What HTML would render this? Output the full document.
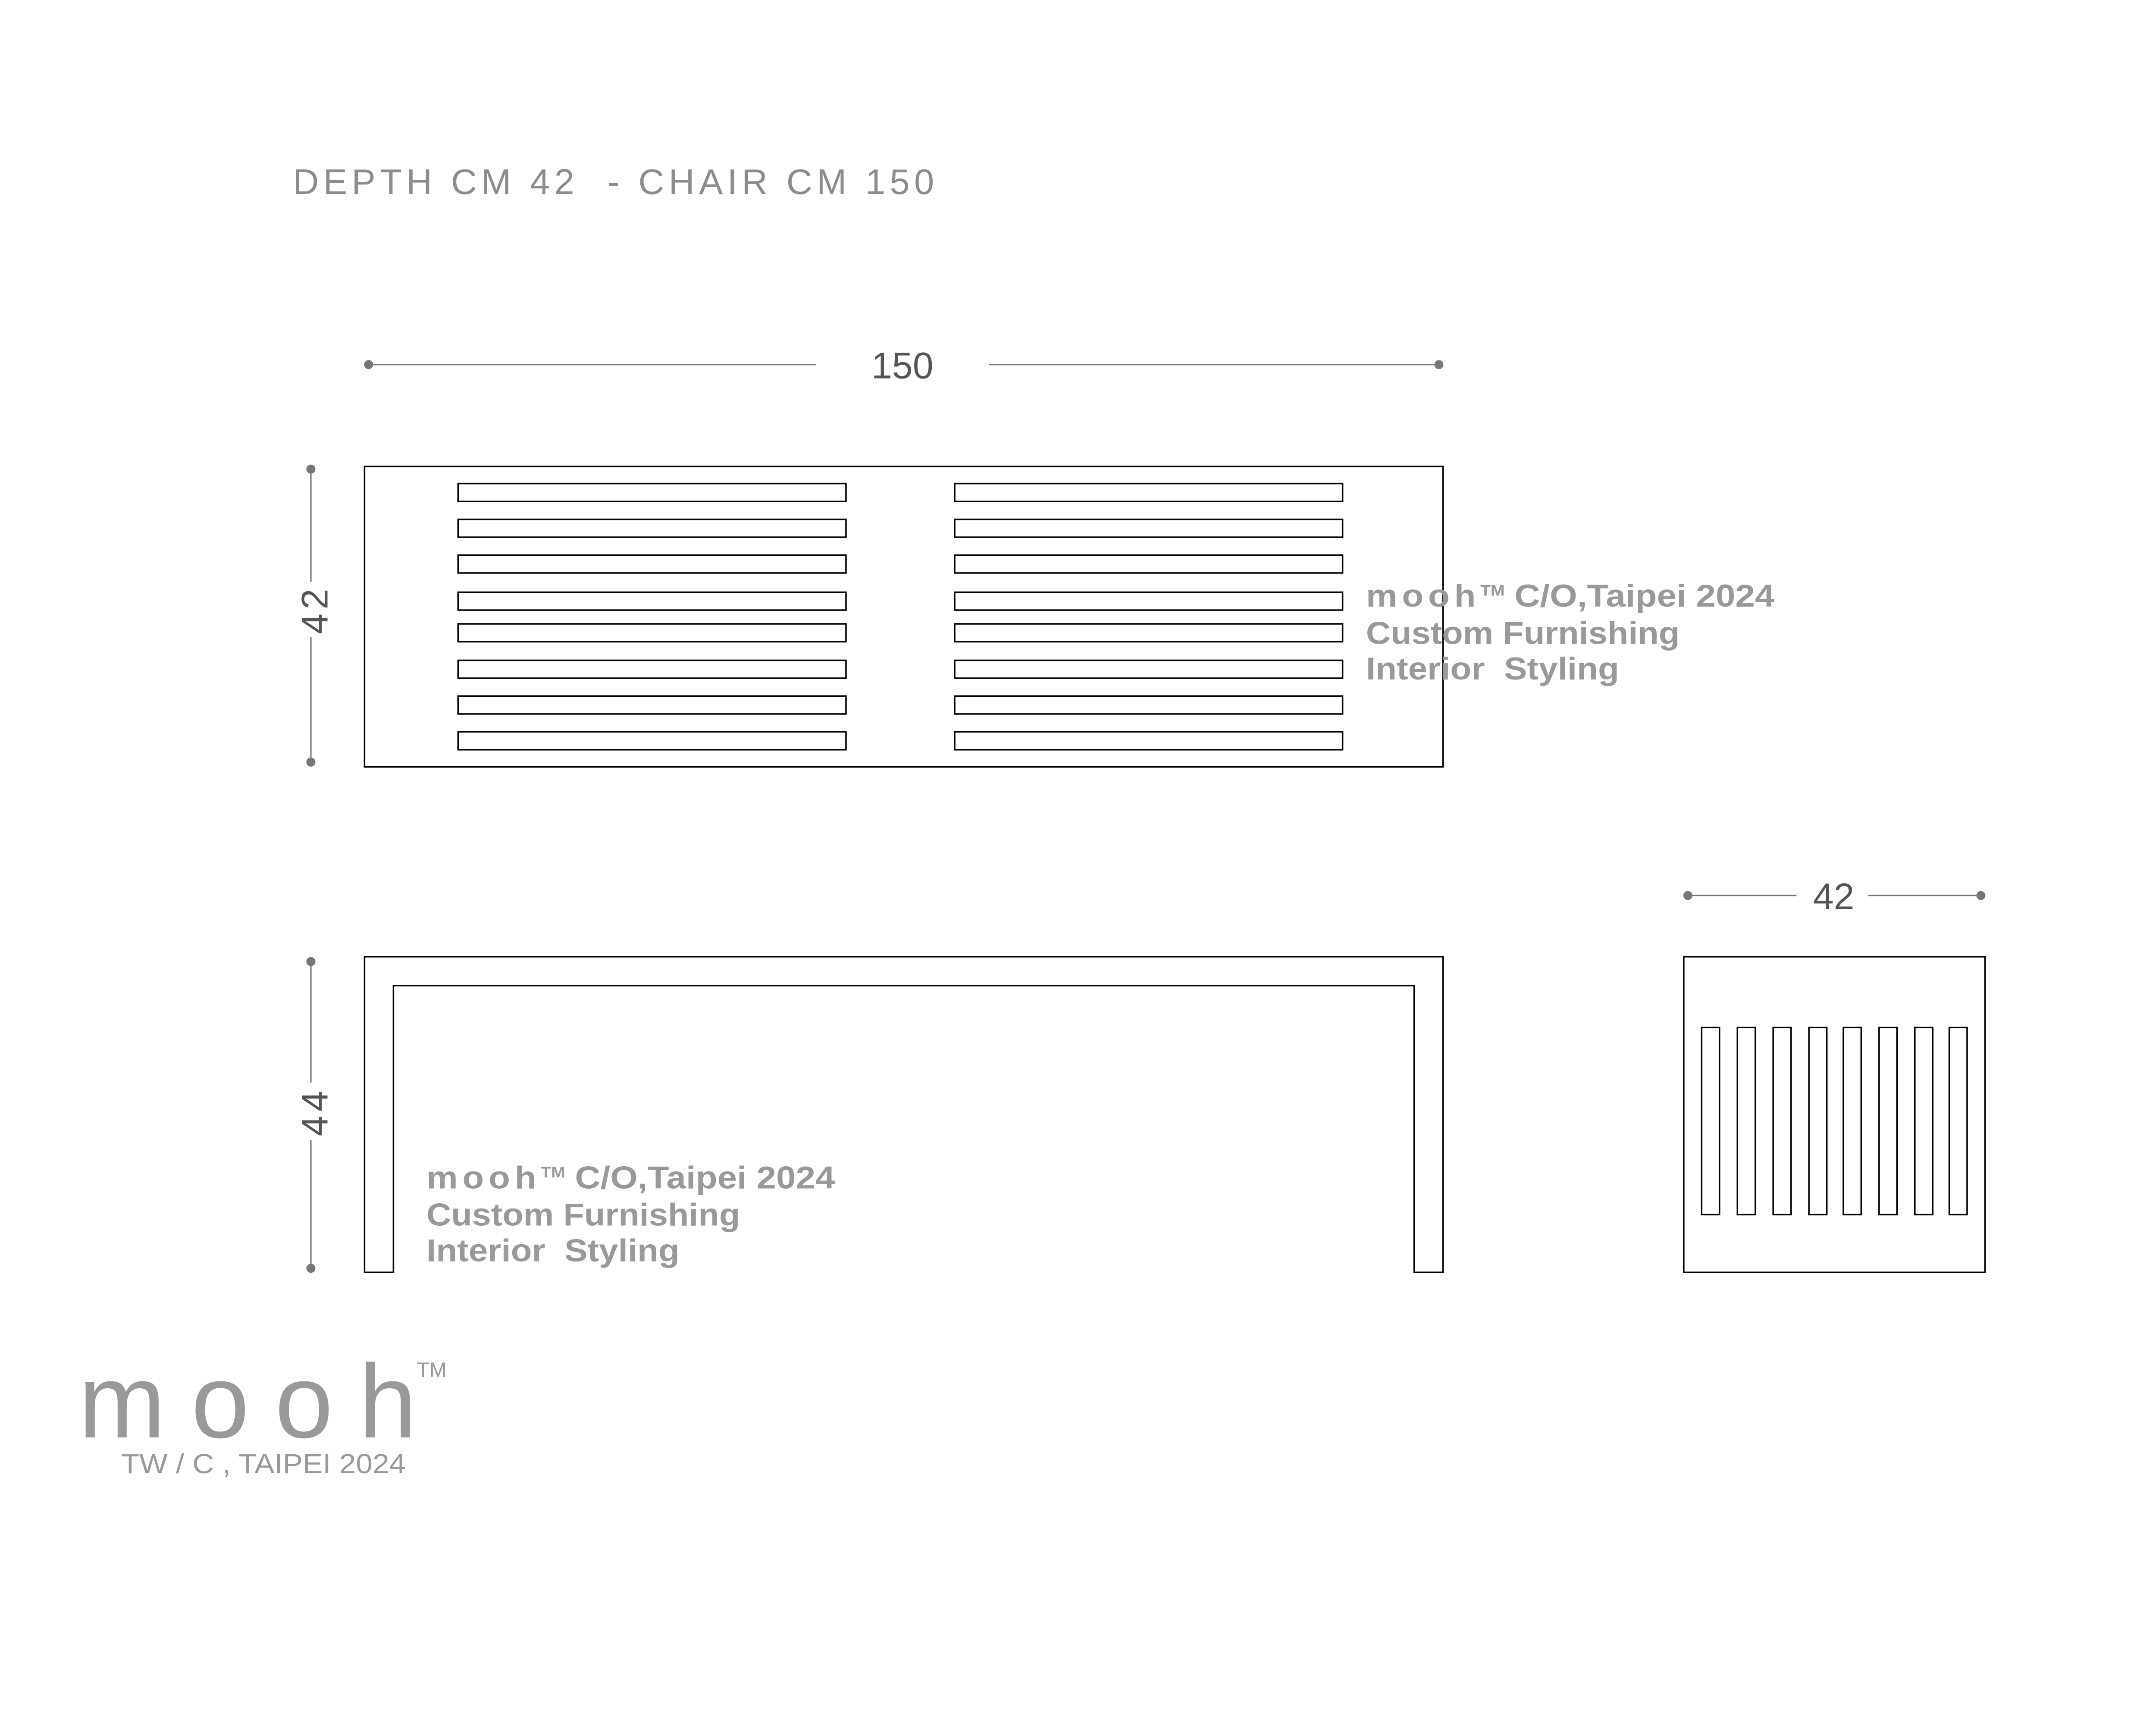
<!DOCTYPE html>
<html><head><meta charset="utf-8"><style>
html,body{margin:0;padding:0;background:#fff;overflow:hidden;width:5334px;height:4001px;}
svg{display:block;}
text{font-family:"Liberation Sans",sans-serif;white-space:pre;}
</style></head><body>
<svg width="5334" height="4001" viewBox="0 0 1672 1254" xmlns="http://www.w3.org/2000/svg">
<rect width="1672" height="1254" fill="#fff"/>
<text x="213" y="141" font-size="26" fill="#8c8c8c" textLength="466" lengthAdjust="spacing" xml:space="preserve">DEPTH CM 42  - CHAIR CM 150</text>

<g stroke="#777" stroke-width="1" fill="#777">
<line x1="268" y1="265" x2="593" y2="265"/><line x1="719" y1="265" x2="1046" y2="265"/>
<circle cx="268" cy="265" r="3.3" stroke="none"/><circle cx="1046" cy="265" r="3.3" stroke="none"/>
<line x1="226" y1="341" x2="226" y2="423"/><line x1="226" y1="463" x2="226" y2="554"/>
<circle cx="226" cy="341" r="3.3" stroke="none"/><circle cx="226" cy="554" r="3.3" stroke="none"/>
<line x1="226" y1="699" x2="226" y2="787"/><line x1="226" y1="829" x2="226" y2="922"/>
<circle cx="226" cy="699" r="3.3" stroke="none"/><circle cx="226" cy="922" r="3.3" stroke="none"/>
<line x1="1227" y1="651" x2="1306" y2="651"/><line x1="1358" y1="651" x2="1440" y2="651"/>
<circle cx="1227" cy="651" r="3.3" stroke="none"/><circle cx="1440" cy="651" r="3.3" stroke="none"/>
</g>
<text x="656" y="275" font-size="27" fill="#555" text-anchor="middle">150</text>
<text x="1333" y="661" font-size="27" fill="#555" text-anchor="middle">42</text>
<text transform="translate(238,443) rotate(-90)" font-size="27" fill="#555" text-anchor="middle" letter-spacing="3">42</text>
<text transform="translate(238,808) rotate(-90)" font-size="27" fill="#555" text-anchor="middle" letter-spacing="3">44</text>

<g fill="none" stroke="#000" stroke-width="1.1">
<rect x="265" y="339" width="784" height="218.5"/>
<g id="s">
<rect x="333" y="351.5" width="282" height="13"/>
<rect x="333" y="377.5" width="282" height="13"/>
<rect x="333" y="403.5" width="282" height="13"/>
<rect x="333" y="430.5" width="282" height="13"/>
<rect x="333" y="453.5" width="282" height="13"/>
<rect x="333" y="480" width="282" height="13"/>
<rect x="333" y="506" width="282" height="13"/>
<rect x="333" y="532" width="282" height="13"/>
</g>
<use href="#s" x="361"/>
<path d="M265 925 V695.5 H1049 V925 H1028 V716.5 H286 V925 Z"/>
<rect x="1224" y="695.5" width="219" height="229.5"/>
<rect x="1237" y="747" width="13" height="136"/>
<rect x="1263" y="747" width="13" height="136"/>
<rect x="1289" y="747" width="13" height="136"/>
<rect x="1315" y="747" width="13" height="136"/>
<rect x="1340" y="747" width="13" height="136"/>
<rect x="1366" y="747" width="13" height="136"/>
<rect x="1392" y="747" width="13" height="136"/>
<rect x="1417" y="747" width="13" height="136"/>
</g>

<g font-size="23" font-weight="bold" fill="#999">
<text x="993" y="441" textLength="297" lengthAdjust="spacingAndGlyphs"><tspan letter-spacing="3">mooh</tspan><tspan font-size="11" dy="-8">TM</tspan><tspan dy="8"> C/O,Taipei 2024</tspan></text>
<text x="993" y="468" textLength="228" lengthAdjust="spacingAndGlyphs">Custom Furnishing</text>
<text x="993" y="494" textLength="184" lengthAdjust="spacingAndGlyphs" xml:space="preserve">Interior  Styling</text>
<text x="310" y="864" textLength="297" lengthAdjust="spacingAndGlyphs"><tspan letter-spacing="3">mooh</tspan><tspan font-size="11" dy="-8">TM</tspan><tspan dy="8"> C/O,Taipei 2024</tspan></text>
<text x="310" y="891" textLength="228" lengthAdjust="spacingAndGlyphs">Custom Furnishing</text>
<text x="310" y="917" textLength="184" lengthAdjust="spacingAndGlyphs" xml:space="preserve">Interior  Styling</text>
</g>

<text x="57" y="1045" font-size="76" fill="#999" textLength="246" lengthAdjust="spacing">mooh</text>
<text x="303" y="1001" font-size="15" fill="#999">TM</text>
<text x="88" y="1071" font-size="20" fill="#999" textLength="207" lengthAdjust="spacingAndGlyphs">TW / C , TAIPEI 2024</text>
</svg>
</body></html>
